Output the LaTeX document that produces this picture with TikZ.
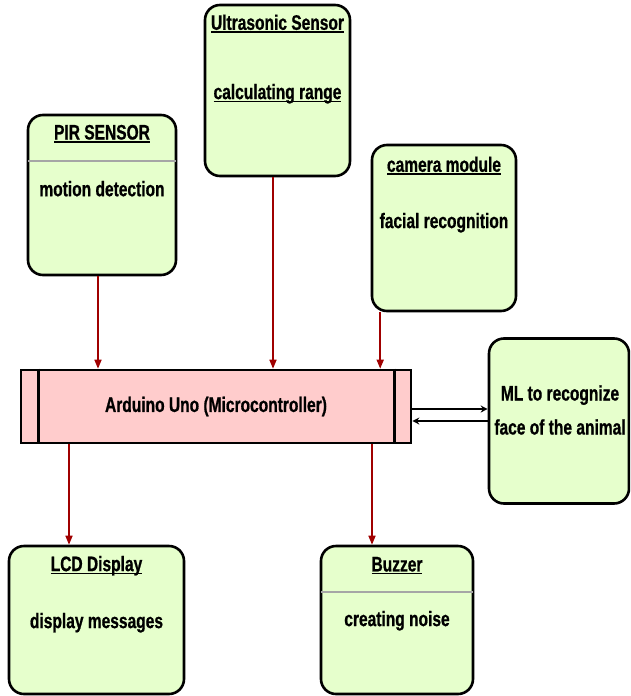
\documentclass[tikz,border=0pt]{standalone}
\usepackage{fontspec}
\setmainfont{Liberation Sans}[FakeStretch=0.74,FakeBold=0.8]
\usetikzlibrary{shapes,arrows.meta,positioning}
\definecolor{unitgreen}{RGB}{230,255,204}
\definecolor{ctrlpink}{RGB}{255,204,204}
\definecolor{wire}{RGB}{160,0,0}
\def\Ctrl{Arduino Uno (Microcontroller)}
\newcommand{\undl}[1]{\leavevmode\setbox0=\hbox{#1}\rlap{\copy0}\rule[-3pt]{\wd0}{1.4pt}}

\begin{document}
\begin{tikzpicture}[x=1pt,y=-1pt,% pixel grid, y runs downwards
			every node/.style={
				align=center,  		% so that "\\" breaks a line
				font=\fontsize{21}{34}\selectfont\bfseries
			},
			unit/.style={rectangle,rounded corners=15pt,line width=2.6pt,draw=black,fill=unitgreen},
			ctrl/.style={rectangle,line width=2.6pt,draw=black,fill=ctrlpink,minimum width=390pt,minimum height=73pt},
			sep/.style={draw=black!35,line width=1.6pt,shorten <=1.5pt,shorten >=1.5pt},
			feed/.style={draw=wire,line width=1.6pt,-{Triangle[length=9pt,width=7pt]}},
			link/.style={draw=black,line width=1.2pt,-{Stealth[length=7pt,width=7pt,open]}}
		]
		\useasboundingbox (0,0) rectangle (630,696);
		\clip (0,0) rectangle (630,696);
		% the boxes
		\node[unit,minimum width=148pt,minimum height=160pt](PIR) at (102,195){};
		\node[unit,minimum width=145pt,minimum height=171pt](US) at (277.5,90.5){};
		\node[unit,minimum width=144pt,minimum height=166pt](CAM) at (444,228){};
		\node[ctrl](ARD) at (216,406.5){\Ctrl};
		\node[unit,minimum width=140pt,minimum height=165pt](ML) at (559,421){};
		\node[unit,minimum width=175pt,minimum height=148pt](LCD) at (96.5,620){};
		\node[unit,minimum width=152pt,minimum height=148pt](BZ) at (397,620){};
		% texts inside the boxes
		\node(PIRt)[below=20pt of PIR.north,anchor=center]{\undl{PIR SENSOR}};
		\node(PIRd)[below=75pt of PIR.north,anchor=center]{motion detection};
		\node(USt)[below=20pt of US.north,anchor=center]{\undl{Ultrasonic Sensor}};
		\node(USd)[below=90pt of US.north,anchor=center]{\undl{calculating range}};
		\node(CAMt)[below=22pt of CAM.north,anchor=center]{\undl{camera module}};
		\node(CAMd)[below=79pt of CAM.north,anchor=center]{facial recognition};
		\node(MLd) at (560,410){ML to recognize\\face of the animal};
		\node(LCDt)[below=21pt of LCD.north,anchor=center]{\undl{LCD Display}};
		\node(LCDd)[below=78pt of LCD.north,anchor=center]{display messages};
		\node(BZt)[below=21pt of BZ.north,anchor=center]{\undl{Buzzer}};
		\node(BZd)[below=76pt of BZ.north,anchor=center]{creating noise};
		% dividers
		\path[sep] ([yshift=-47pt]PIR.north west) -- ([yshift=-47pt]PIR.north east);
		\path[sep] ([yshift=-47pt]BZ.north west) -- ([yshift=-47pt]BZ.north east);
		\draw[line width=2.6pt] ([xshift=19pt]ARD.north west) -- ([xshift=19pt]ARD.south west)
			([xshift=-18pt]ARD.north east) -- ([xshift=-18pt]ARD.south east);
		% connectors
		\path[feed] ([xshift=-4pt]PIR.south) -- ([xshift=-4pt]PIR.south |- ARD.north);
		\path[feed] ([xshift=-4.5pt]US.south) -- ([xshift=-4.5pt]US.south |- ARD.north);
		\path[feed] ([xshift=9.5pt]CAM.south west) -- ([xshift=9.5pt]CAM.south west |- ARD.north);
		\path[feed] ([xshift=-27.5pt]LCD.north |- ARD.south) -- ([xshift=-27.5pt]LCD.north);
		\path[feed] ([xshift=-25pt]BZ.north |- ARD.south) -- ([xshift=-25pt]BZ.north);
		\path[link] ([yshift=-2.5pt]ARD.east) -- ([yshift=-2.5pt]ARD.east -| ML.west);
		\path[link] ([yshift=-14.5pt]ARD.east -| ML.west) -- ([yshift=-14.5pt]ARD.east);
	\end{tikzpicture}
\end{document}
